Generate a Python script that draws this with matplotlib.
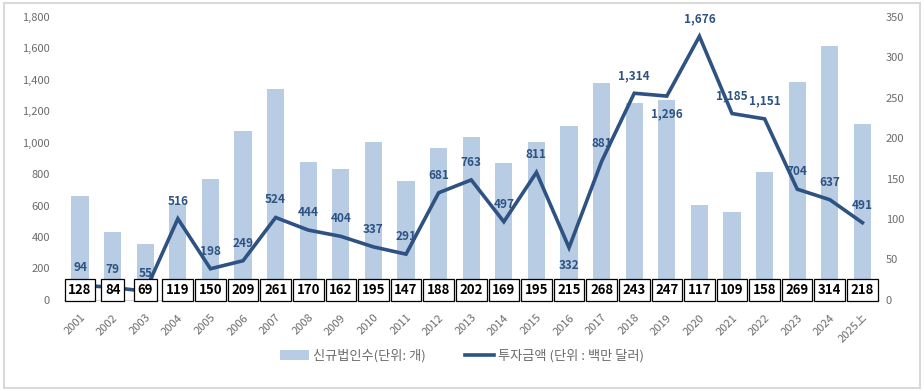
import matplotlib
matplotlib.use("Agg")
import matplotlib.pyplot as plt
from matplotlib.patches import Rectangle, Patch
from matplotlib.lines import Line2D
import numpy as np

plt.rcParams['font.family'] = ['Noto Sans CJK KR', 'DejaVu Sans']

years = ['2001', '2002', '2003', '2004', '2005', '2006', '2007', '2008', '2009', '2010',
         '2011', '2012', '2013', '2014', '2015', '2016', '2017', '2018', '2019', '2020',
         '2021', '2022', '2023', '2024', '2025上']
new_corps = [128, 84, 69, 119, 150, 209, 261, 170, 162, 195, 147, 188, 202, 169, 195,
             215, 268, 243, 247, 117, 109, 158, 269, 314, 218]
invest = [94, 79, 55, 516, 198, 249, 524, 444, 404, 337, 291, 681, 763, 497, 811,
          332, 881, 1314, 1296, 1676, 1185, 1151, 704, 637, 491]
left_ticks = [0, 200, 400, 600, 800, 1000, 1200, 1400, 1600, 1800]
right_ticks = [0, 50, 100, 150, 200, 250, 300, 350]

bar_color = '#B8CCE4'
line_color = '#2E5282'
tick_color = '#6B6B6B'

fig = plt.figure(figsize=(9.24, 3.91), dpi=100)
fig.patches.append(Rectangle((0.004, 0.008), 0.992, 0.984, transform=fig.transFigure,
                             fill=False, edgecolor='#D9D9D9', linewidth=1.5))

ax = fig.add_axes([0.069, 0.233, 0.882, 0.724])
ax2 = ax.twinx()

x = np.arange(len(years))
# bars on the right axis
ax2.bar(x, new_corps, width=0.53, color=bar_color, zorder=1)
ax2.set_ylim(0, 350)
ax2.set_yticks(right_ticks)
ax2.set_yticklabels([f'{t:,}' for t in right_ticks])

# line on the left axis, drawn above bars
ax.set_zorder(ax2.get_zorder() + 1)
ax.patch.set_visible(False)
ax.plot(x, invest, color=line_color, linewidth=2.6, zorder=3, solid_joinstyle='miter')
ax.set_ylim(0, 1800)
ax.set_yticks(left_ticks)
ax.set_yticklabels([f'{t:,}' for t in left_ticks])
ax.set_xlim(-0.5, len(years) - 0.5)
ax.set_xticks(x)
ax.set_xticklabels(years, rotation=45, ha='right', rotation_mode='anchor')

for a in (ax, ax2):
    for s in ['top', 'left', 'right']:
        a.spines[s].set_visible(False)
    a.spines['bottom'].set_color('#D9D9D9')
    a.tick_params(axis='both', length=0, colors=tick_color, labelsize=8)
ax.tick_params(axis='y', pad=10)
ax2.tick_params(axis='y', pad=5)
ax.tick_params(axis='x', pad=9)

# line value labels
below = {'1,296', '332'}
for xi, v in zip(x, invest):
    lab = f'{v:,}'
    if lab in below:
        ax.annotate(lab, (xi, v), xytext=(0, -8), textcoords='offset points',
                    ha='center', va='top', color=line_color, fontsize=8.5, fontweight='semibold', zorder=5)
    else:
        ax.annotate(lab, (xi, v), xytext=(0, 8), textcoords='offset points',
                    ha='center', va='bottom', color=line_color, fontsize=8.5, fontweight='semibold', zorder=5)

# boxed bar value labels
for xi, v in zip(x, new_corps):
    ax.annotate(str(v), (xi, 0.035), xycoords=('data', 'axes fraction'),
                ha='center', va='center', fontsize=9.5, fontweight='bold', color='black',
                bbox=dict(boxstyle='square,pad=0.28', facecolor='white', edgecolor='black', linewidth=0.9),
                zorder=6)

# legend
handles = [Patch(facecolor=bar_color, label='신규법인수(단위: 개)'),
           Line2D([0], [0], color=line_color, linewidth=2.6, label='투자금액 (단위 : 백만 달러)')]
fig.legend(handles=handles, loc='center', bbox_to_anchor=(0.5, 0.09), ncol=2, frameon=False,
           fontsize=9.5, labelcolor=tick_color, handlelength=2.2, handletextpad=0.3,
           columnspacing=3.0)

fig.savefig('out.png', dpi=100)
